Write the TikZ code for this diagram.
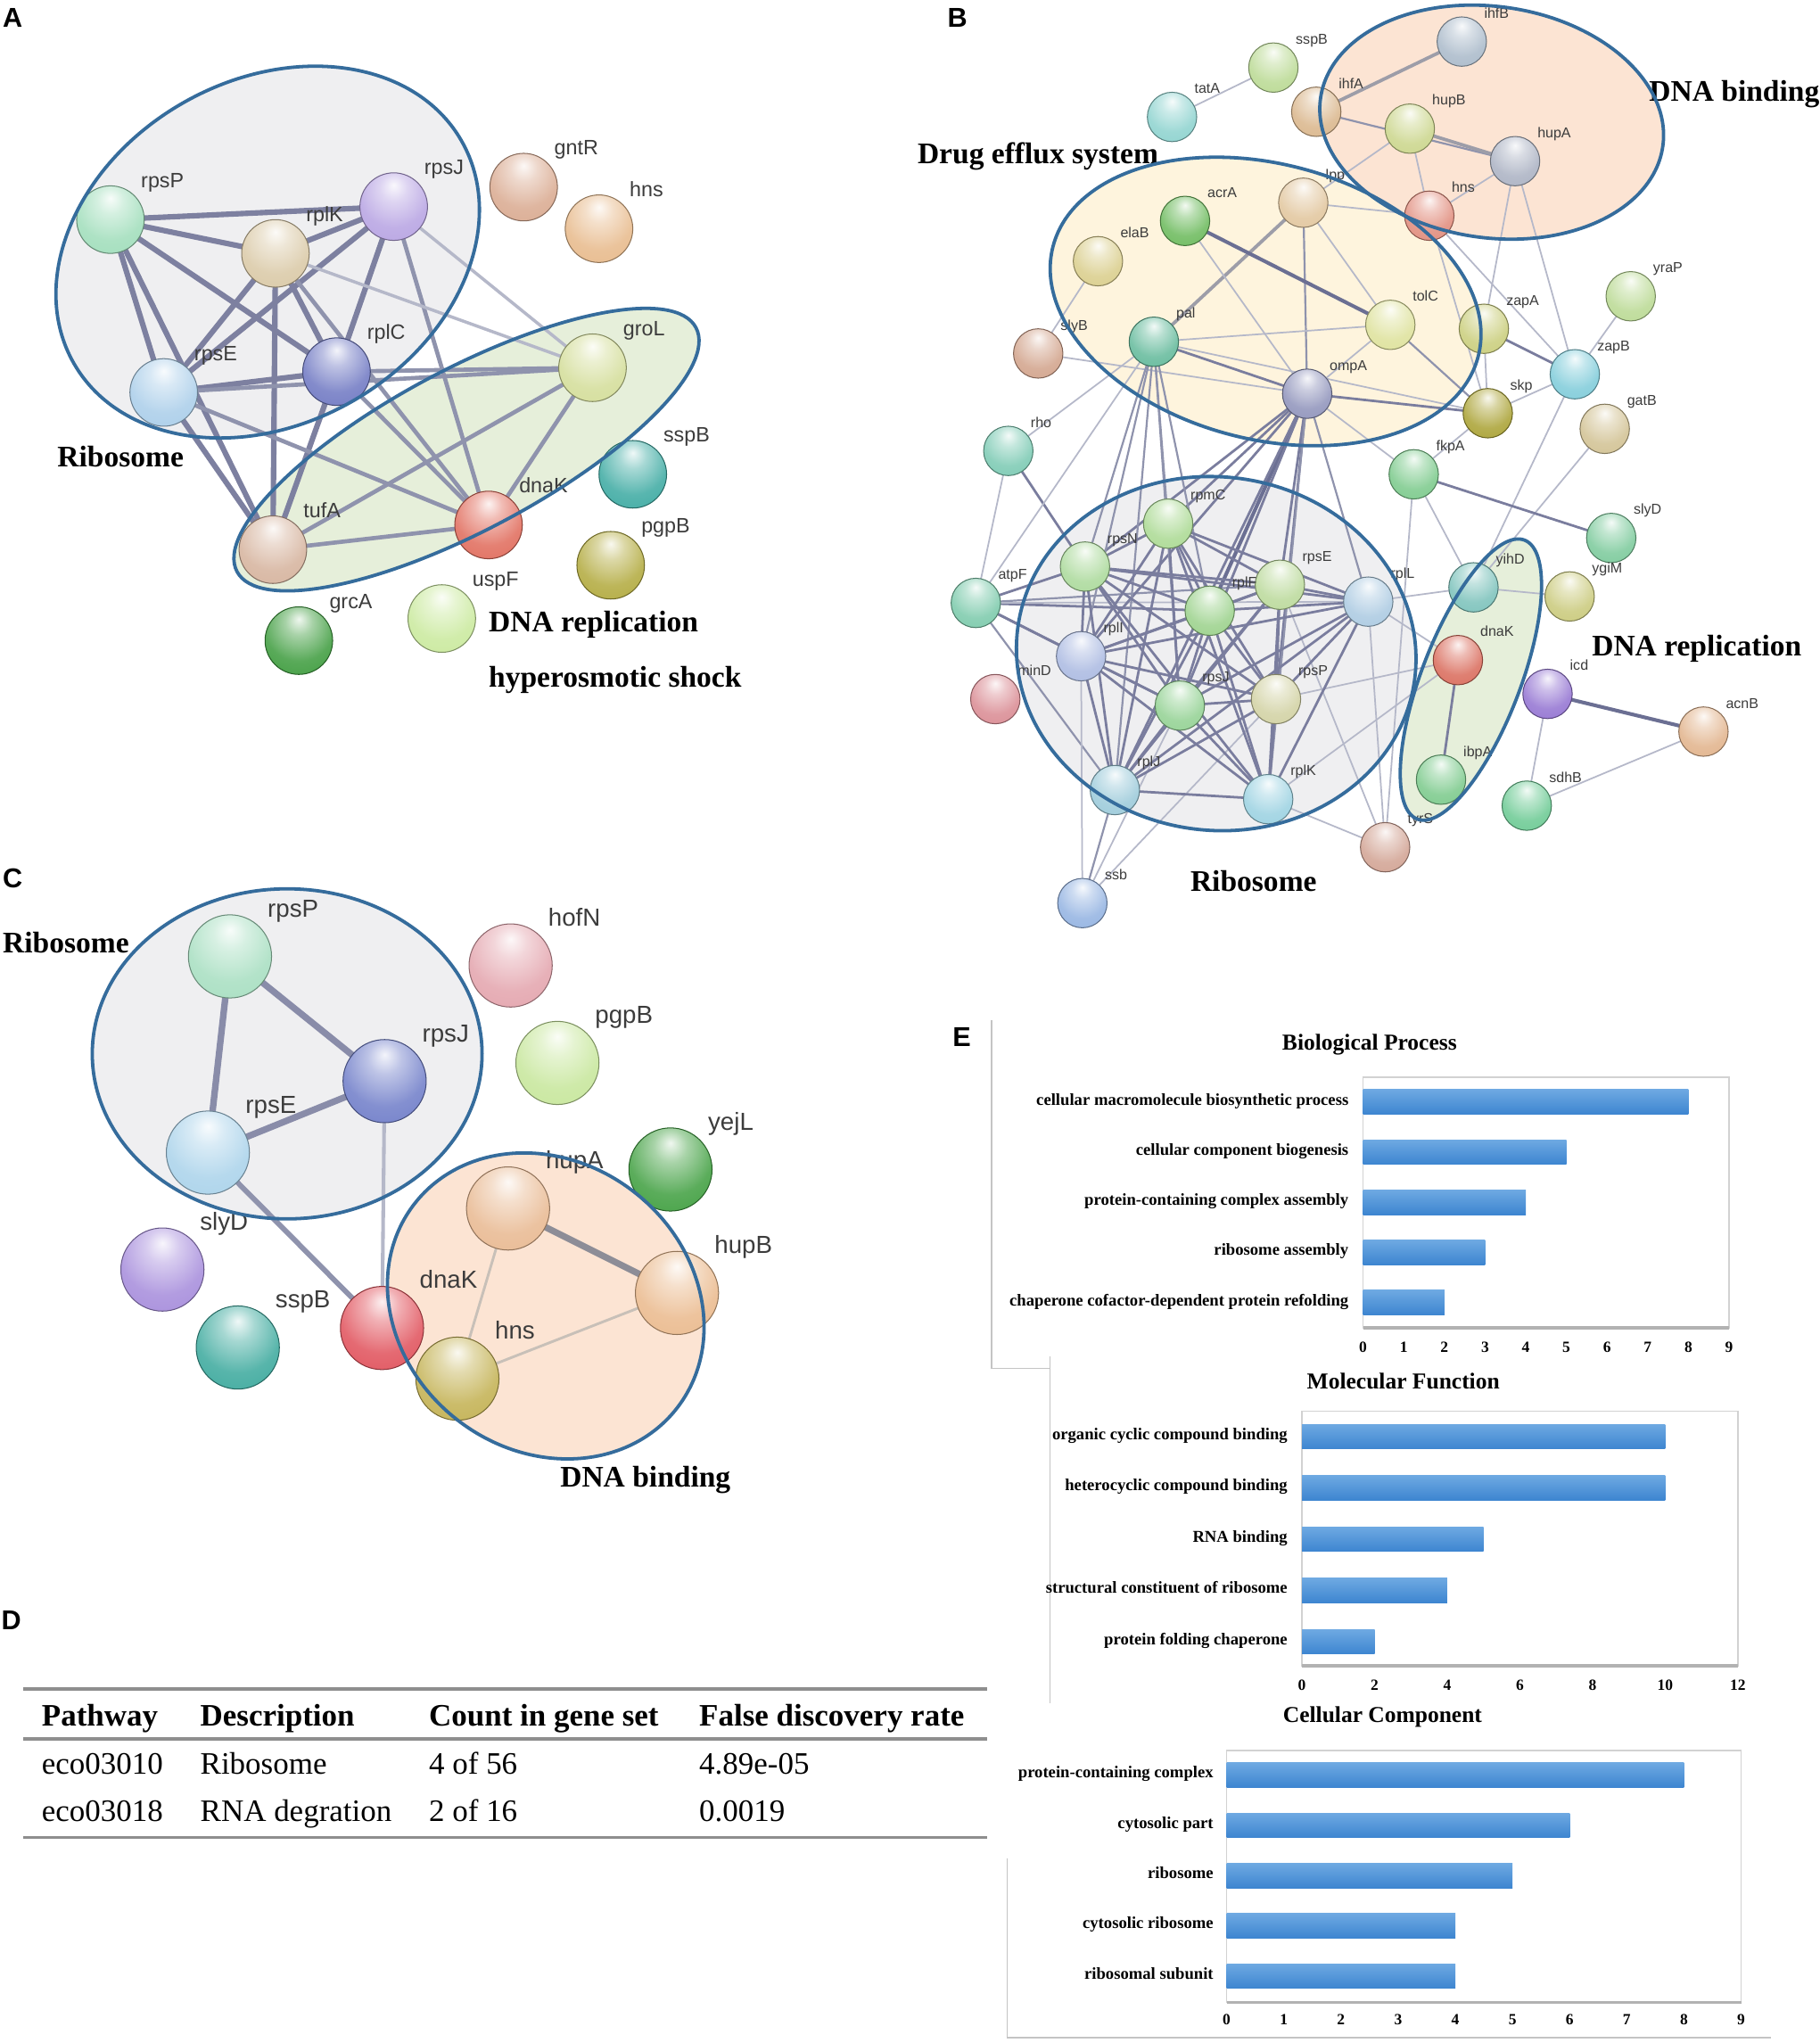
\documentclass[tikz,border=0pt]{standalone}
\usepackage{fontspec}
\setmainfont{Liberation Serif}
\newfontfamily\lsans{Liberation Sans}
\usetikzlibrary{calc}
\pgfdeclarelayer{paper}
\pgfdeclarelayer{bg}
\pgfdeclarelayer{edges}
\pgfdeclarelayer{fg}
\pgfsetlayers{paper,bg,edges,main,fg}
\makeatletter
\pgfdeclareradialshading[tikz@ball]{strball}{\pgfqpoint{0bp}{16bp}}{%
 color(0bp)=(tikz@ball!8!white);
 color(10bp)=(tikz@ball!45!white);
 color(26bp)=(tikz@ball!85!white);
 color(46bp)=(tikz@ball);
 color(62bp)=(tikz@ball!78!black);
 color(80bp)=(tikz@ball!65!black)}
\makeatother
\definecolor{labc}{HTML}{3C3C3C}
\definecolor{gline}{HTML}{356C9C}
\definecolor{gfill}{HTML}{EFEFF1}
\definecolor{grfill}{HTML}{E6EFDA}
\definecolor{ofill}{HTML}{FCE4D3}
\definecolor{yfill}{HTML}{FEF4DD}
\definecolor{edk}{HTML}{6B6F93}
\definecolor{emd}{HTML}{8F93AD}
\definecolor{elt}{HTML}{B5B8C9}
\definecolor{egr}{HTML}{9D9DA8}
\definecolor{ebeige}{HTML}{C8C0B8}
\definecolor{barT}{HTML}{6EA9E2}
\definecolor{barB}{HTML}{3D85D0}
\definecolor{framec}{HTML}{C4C4C4}
\definecolor{boxc}{HTML}{D2D2D2}
\definecolor{rulec}{HTML}{8E8E8E}
\newcommand\fntA{\lsans\fontsize{16}{16}\selectfont}
\newcommand\fntB{\lsans\fontsize{11}{11}\selectfont}
\newcommand\fntC{\lsans\fontsize{19}{19}\selectfont}
\newcommand\fntT{\bfseries\fontsize{23}{23}\selectfont}
\newcommand\fntP{\lsans\bfseries\fontsize{21}{21}\selectfont}
\newcommand\fntD{\fontsize{24}{24}\selectfont}
\newcommand\fntE{\bfseries\fontsize{12.8}{12.8}\selectfont}
\newcommand\fntEt{\bfseries\fontsize{12}{12}\selectfont}
\newcommand\fntEh{\bfseries\fontsize{17.5}{17.5}\selectfont}
\newcommand\gnode[7]{%
 \definecolor{c#1}{HTML}{#4}%
 \node[sph, minimum size=2*#6pt, ball color=c#1, shading=strball, draw=c#1!62!black] (#1) at (#2,#3) {};
 \node[lab, font=#7] (#1l) at (#2+0.9*#6, #3-0.95*#6) {#5};}
\newcommand\gedge[3]{\draw[#1] (#2.center) -- (#3.center);}
\newcommand\ggroup[6]{%
 \begin{pgfonlayer}{bg}\fill[#6, rotate around={#5:(#1,#2)}] (#1,#2) ellipse [x radius=#3, y radius=#4];\end{pgfonlayer}%
 \begin{pgfonlayer}{fg}\draw[grpline, rotate around={#5:(#1,#2)}] (#1,#2) ellipse [x radius=#3, y radius=#4];\end{pgfonlayer}}
\tikzset{
 sph/.style={circle, inner sep=0pt, line width=0.7pt},
 lab/.style={anchor=base west, inner sep=0pt, text=labc},
 grpline/.style={draw=gline, line width=2.6pt},
 pl/.style={anchor=base west, inner sep=0pt, font=\fntP},
 tl/.style={anchor=base west, inner sep=0pt, font=\fntT},
 ae1/.style={line width=4.2pt, draw=edk!88!white},
 ae2/.style={line width=3.2pt, draw=emd},
 ae3/.style={line width=2.4pt, draw=elt},
 be1/.style={line width=2.8pt, draw=edk},
 be2/.style={line width=1.9pt, draw=edk!90!white},
 be3/.style={line width=1.5pt, draw=emd},
 be4/.style={line width=1.2pt, draw=elt},
 bg1/.style={line width=2.6pt, draw=egr},
 ce1/.style={line width=5pt, draw=edk!80!white},
 ce2/.style={line width=4pt, draw=emd},
 ce3/.style={line width=2.8pt, draw=elt},
 ce4/.style={line width=2pt, draw=ebeige},
 ce5/.style={line width=5pt, draw=egr!90!black},
 tcell/.style={anchor=base west, inner sep=0pt, font=\fntD},
 thead/.style={anchor=base west, inner sep=0pt, font=\fntD\bfseries},
 trule/.style={draw=rulec, line width=2.5pt},
 elab/.style={anchor=mid east, inner sep=0pt, font=\fntE},
 etick/.style={anchor=center, inner sep=0pt, font=\fntEt},
 etitle/.style={anchor=center, inner sep=0pt, font=\fntEh},
 ebar/.style={top color=barT, bottom color=barB},
 ebox/.style={draw=boxc, line width=1.2pt},
 eboxb/.style={draw=boxc!85!black, line width=2.5pt},
 eframe/.style={draw=framec, line width=1pt}
}
\begin{document}
\begin{tikzpicture}[x=1pt,y=-1pt]
\useasboundingbox (0,0) rectangle (1400,1572.25);
\begin{pgfonlayer}{paper}\fill[white] (0,0) rectangle (1400,1572.25);\end{pgfonlayer}

% ================= Panel A =================
\node[pl] (labA) at (2,21) {A};
\ggroup{206}{194}{172}{132}{30}{gfill}
\ggroup{359}{346}{200}{62}{28}{grfill}
\gnode{ArpsP}{85}{169}{9FDDBA}{rpsP}{26}{\fntA}
\gnode{ArplK}{212}{195}{D9C8A5}{rplK}{26}{\fntA}
\gnode{ArpsJ}{303}{159}{B6A2E2}{rpsJ}{26}{\fntA}
\gnode{ArpsE}{126}{302}{A9CDE9}{rpsE}{26}{\fntA}
\gnode{ArplC}{259}{286}{6E77C2}{rplC}{26}{\fntA}
\gnode{AgroL}{456}{283}{D3DD98}{groL}{26}{\fntA}
\gnode{AtufA}{210}{423}{D5B29C}{tufA}{26}{\fntA}
\gnode{AdnaK}{376}{404}{E06A5A}{dnaK}{26}{\fntA}
\gnode{AgntR}{403}{144}{D9A98F}{gntR}{26}{\fntA}
\gnode{Ahns}{461}{176}{E7B98A}{hns}{26}{\fntA}
\gnode{AsspB}{487}{365}{3BA9A1}{sspB}{26}{\fntA}
\gnode{ApgpB}{470}{435}{B1A93C}{pgpB}{26}{\fntA}
\gnode{AuspF}{340}{476}{C9E99C}{uspF}{26}{\fntA}
\gnode{AgrcA}{230}{493}{3C9B3C}{grcA}{26}{\fntA}
\begin{pgfonlayer}{edges}
\gedge{ae1}{ArpsP}{ArpsJ}\gedge{ae1}{ArpsP}{ArplK}\gedge{ae1}{ArpsP}{ArplC}
\gedge{ae1}{ArpsP}{ArpsE}\gedge{ae1}{ArpsP}{AtufA}\gedge{ae1}{ArplK}{ArpsJ}
\gedge{ae1}{ArplK}{ArpsE}\gedge{ae1}{ArplK}{ArplC}\gedge{ae1}{ArplK}{AtufA}
\gedge{ae1}{ArpsJ}{ArplC}\gedge{ae1}{ArpsJ}{ArpsE}\gedge{ae1}{ArpsE}{ArplC}
\gedge{ae1}{ArpsE}{AtufA}\gedge{ae1}{ArplC}{AtufA}
\gedge{ae2}{AgroL}{AdnaK}\gedge{ae2}{ArplC}{AgroL}\gedge{ae2}{ArpsE}{AgroL}
\gedge{ae2}{AtufA}{AgroL}\gedge{ae2}{AtufA}{AdnaK}\gedge{ae2}{ArplC}{AdnaK}
\gedge{ae2}{ArpsE}{AdnaK}\gedge{ae2}{ArplK}{AdnaK}\gedge{ae2}{ArpsJ}{AdnaK}
\gedge{ae3}{ArpsJ}{AgroL}\gedge{ae3}{ArplK}{AgroL}
\end{pgfonlayer}
\node[tl] (AtRib) at (44,359) {Ribosome};
\node[tl] (AtDNA) at (376,486) {DNA replication};
\node[tl] (AtHyp) at (376,529) {hyperosmotic shock};

% ================= Panel B =================
\node[pl] (labB) at (729,21) {B};
\begin{scope}[xshift=4pt]
\ggroup{970}{232}{169}{106}{-14.5}{yfill}
\ggroup{1144}{94}{133}{89}{-8}{ofill}
\ggroup{932}{503}{154}{136}{-7}{gfill}
\ggroup{1128}{523}{115}{38}{69}{grfill}
\gnode{BihfB}{1121}{32}{A9B9C9}{ihfB}{19}{\fntB}
\gnode{BsspB}{976}{52}{B9D992}{sspB}{19}{\fntB}
\gnode{BtatA}{898}{90}{8CD2CE}{tatA}{19}{\fntB}
\gnode{BihfA}{1009}{86}{D9B58A}{ihfA}{19}{\fntB}
\gnode{BhupB}{1081}{99}{CAD58A}{hupB}{19}{\fntB}
\gnode{BhupA}{1162}{124}{AAB1C2}{hupA}{19}{\fntB}
\gnode{Blpp}{999}{156}{E1C59C}{lpp}{19}{\fntB}
\gnode{Bhns}{1096}{166}{E08A7A}{hns}{19}{\fntB}
\gnode{BacrA}{908}{170}{6AB95A}{acrA}{19}{\fntB}
\gnode{BelaB}{841}{201}{D9CD8A}{elaB}{19}{\fntB}
\gnode{BtolC}{1066}{250}{DDE19A}{tolC}{19}{\fntB}
\gnode{BzapA}{1138}{253}{C9CD7A}{zapA}{19}{\fntB}
\gnode{ByraP}{1251}{228}{B9D992}{yraP}{19}{\fntB}
\gnode{Bpal}{884}{263}{62B99A}{pal}{19}{\fntB}
\gnode{BslyB}{795}{272}{D1A28A}{slyB}{19}{\fntB}
\gnode{BzapB}{1208}{288}{7ECBD9}{zapB}{19}{\fntB}
\gnode{BompA}{1002}{303}{8E92BA}{ompA}{19}{\fntB}
\gnode{Bskp}{1141}{318}{A9A132}{skp}{19}{\fntB}
\gnode{BgatB}{1231}{330}{D1C192}{gatB}{19}{\fntB}
\gnode{Brho}{772}{347}{7AC9B2}{rho}{19}{\fntB}
\gnode{BfkpA}{1084}{365}{7AC98A}{fkpA}{19}{\fntB}
\gnode{BslyD}{1236}{414}{7AC99A}{slyD}{19}{\fntB}
\gnode{BrpmC}{895}{403}{AAD992}{rpmC}{19}{\fntB}
\gnode{BrpsN}{831}{436}{AAD99A}{rpsN}{19}{\fntB}
\gnode{BrpsE}{981}{450}{BAD99A}{rpsE}{19}{\fntB}
\gnode{BrplF}{927}{470}{9AD18A}{rplF}{19}{\fntB}
\gnode{BrplL}{1049}{463}{AAC9E1}{rplL}{19}{\fntB}
\gnode{ByihD}{1130}{452}{7AC1BA}{yihD}{19}{\fntB}
\gnode{BygiM}{1204}{459}{C9C97A}{ygiM}{19}{\fntB}
\gnode{BatpF}{747}{464}{7AC9AA}{atpF}{19}{\fntB}
\gnode{BrplI}{828}{505}{AAB9E1}{rplI}{19}{\fntB}
\gnode{BdnaK}{1118}{508}{D96A5A}{dnaK}{19}{\fntB}
\gnode{Bicd}{1187}{534}{9272D1}{icd}{19}{\fntB}
\gnode{BminD}{762}{538}{D98A92}{minD}{19}{\fntB}
\gnode{BrpsJ}{904}{543}{92D192}{rpsJ}{19}{\fntB}
\gnode{BrpsP}{978}{538}{D1D1A2}{rpsP}{19}{\fntB}
\gnode{BacnB}{1307}{563}{E1B28A}{acnB}{19}{\fntB}
\gnode{BibpA}{1105}{600}{7AC98A}{ibpA}{19}{\fntB}
\gnode{BrplJ}{854}{608}{9AC9D9}{rplJ}{19}{\fntB}
\gnode{BrplK}{972}{615}{9AD1E1}{rplK}{19}{\fntB}
\gnode{BsdhB}{1171}{620}{6AC992}{sdhB}{19}{\fntB}
\gnode{BtyrS}{1062}{652}{D1A292}{tyrS}{19}{\fntB}
\gnode{Bssb}{829}{695}{92B2E1}{ssb}{19}{\fntB}
\begin{pgfonlayer}{edges}
\gedge{be4}{BtatA}{BsspB}
\gedge{bg1}{BihfA}{BihfB}\gedge{be3}{BihfA}{BhupA}\gedge{bg1}{BhupB}{BhupA}
\gedge{be4}{BhupB}{Bhns}\gedge{be4}{BhupB}{Blpp}\gedge{be4}{BhupA}{Bhns}
\gedge{be4}{BhupA}{BzapA}\gedge{be4}{BhupA}{BzapB}\gedge{be4}{Blpp}{Bhns}
\gedge{be4}{Blpp}{BtolC}\gedge{be4}{Bhns}{BzapB}\gedge{be4}{Bhns}{Bskp}
\gedge{bg1}{Blpp}{Bpal}\gedge{be3}{Blpp}{BompA}
\gedge{be1}{BacrA}{BtolC}\gedge{be4}{BacrA}{BompA}\gedge{be4}{BelaB}{BslyB}
\gedge{be4}{Bpal}{BtolC}\gedge{be4}{Bpal}{Bskp}\gedge{be4}{BtolC}{BompA}
\gedge{be4}{BslyB}{BompA}\gedge{be4}{BompA}{BfkpA}\gedge{be4}{BzapA}{Bskp}
\gedge{be4}{ByraP}{BzapB}\gedge{be4}{BzapB}{Bskp}\gedge{be4}{BzapB}{ByihD}
\gedge{be4}{BgatB}{ByihD}\gedge{be4}{Bskp}{BfkpA}\gedge{be4}{Brho}{Bpal}
\gedge{be3}{BtolC}{Bskp}
\gedge{be2}{Bpal}{BompA}\gedge{be2}{BompA}{Bskp}\gedge{be2}{BzapA}{BzapB}
\gedge{be4}{Brho}{BatpF}\gedge{be2}{Brho}{BrpsN}
\gedge{be2}{BatpF}{BrpsN}\gedge{be2}{BatpF}{BrplF}\gedge{be2}{BatpF}{BrplI}
\gedge{be2}{BatpF}{BrpsJ}\gedge{be3}{BatpF}{BrplJ}\gedge{be3}{BatpF}{BrpsE}
\gedge{be4}{BatpF}{BrplL}
\gedge{be3}{Bssb}{BrplJ}\gedge{be4}{Bssb}{BrplI}\gedge{be4}{Bssb}{BrpsJ}
\gedge{be4}{Bssb}{BrpsP}
\gedge{be4}{BtyrS}{BrplL}\gedge{be4}{BtyrS}{BrplK}\gedge{be4}{BtyrS}{BrpsE}
\gedge{be4}{BfkpA}{BtyrS}\gedge{be2}{BfkpA}{BslyD}\gedge{be4}{BfkpA}{ByihD}
\gedge{be2}{BdnaK}{BibpA}\gedge{be4}{BrplL}{BdnaK}\gedge{be4}{BrpsP}{BdnaK}
\gedge{be4}{BrplL}{ByihD}\gedge{be4}{ByihD}{BygiM}\gedge{be4}{BrplK}{BdnaK}
\gedge{be1}{Bicd}{BacnB}\gedge{be4}{Bicd}{BsdhB}\gedge{be4}{BsdhB}{BacnB}
\gedge{be1}{BompA}{BrplF}
\gedge{be2}{BompA}{BrpmC}\gedge{be2}{BompA}{BrpsN}\gedge{be2}{BompA}{BrpsE}
\gedge{be2}{BompA}{BrplI}\gedge{be2}{BompA}{BrpsJ}\gedge{be2}{BompA}{BrpsP}
\gedge{be2}{BompA}{BrplJ}\gedge{be3}{BompA}{BrplL}\gedge{be3}{BompA}{BrplK}
\gedge{be3}{Bpal}{BrpsN}\gedge{be3}{Bpal}{BrplI}\gedge{be3}{Bpal}{BrpmC}
\gedge{be3}{Bpal}{BrplF}\gedge{be3}{Bpal}{BrpsJ}\gedge{be3}{Bpal}{BrplJ}
\gedge{be4}{Bpal}{BatpF}
\foreach \a [count=\i] in {BrpmC,BrpsN,BrpsE,BrplF,BrplL,BrplI,BrpsJ,BrpsP,BrplJ,BrplK}{
 \foreach \b [count=\j] in {BrpmC,BrpsN,BrpsE,BrplF,BrplL,BrplI,BrpsJ,BrpsP,BrplJ,BrplK}{
  \ifnum\i<\j \draw[be2] (\a.center) -- (\b.center);\fi}}
\end{pgfonlayer}
\node[tl] (BtDrug) at (702,126) {Drug efflux system};
\node[tl] (BtDNAb) at (1265,78) {DNA binding};
\node[tl] (BtRib) at (912,686) {Ribosome};
\node[tl] (BtDNAr) at (1221,505) {DNA replication};
\end{scope}

% ================= Panel C =================
\node[pl] (labC) at (2,683) {C};
\ggroup{221}{811}{150}{127}{0}{gfill}
\ggroup{420}{1005}{128}{111}{-38}{ofill}
\gnode{CrpsP}{177}{736}{A6DEC0}{rpsP}{32}{\fntC}
\gnode{CrpsJ}{296}{832}{6E7CC8}{rpsJ}{32}{\fntC}
\gnode{CrpsE}{160}{887}{A9D2EA}{rpsE}{32}{\fntC}
\gnode{ChofN}{393}{743}{E3A3AC}{hofN}{32}{\fntC}
\gnode{CpgpB}{429}{818}{C6E69A}{pgpB}{32}{\fntC}
\gnode{CyejL}{516}{900}{3E9E3E}{yejL}{32}{\fntC}
\gnode{ChupA}{391}{930}{E8B890}{hupA}{32}{\fntC}
\gnode{ChupB}{521}{995}{EAB98C}{hupB}{32}{\fntC}
\gnode{CslyD}{125}{977}{A58BDB}{slyD}{32}{\fntC}
\gnode{CsspB}{183}{1037}{3AA89C}{sspB}{32}{\fntC}
\gnode{CdnaK}{294}{1022}{E0505A}{dnaK}{32}{\fntC}
\gnode{Chns}{352}{1061}{C2B050}{hns}{32}{\fntC}
\begin{pgfonlayer}{edges}
\gedge{ce1}{CrpsP}{CrpsE}\gedge{ce1}{CrpsP}{CrpsJ}\gedge{ce1}{CrpsE}{CrpsJ}
\gedge{ce2}{CrpsE}{CdnaK}\gedge{ce3}{CrpsJ}{CdnaK}
\gedge{ce5}{ChupA}{ChupB}\gedge{ce4}{ChupA}{Chns}\gedge{ce4}{Chns}{ChupB}
\end{pgfonlayer}
\node[tl] (CtRib) at (2,733) {Ribosome};
\node[tl] (CtDNA) at (431,1144) {DNA binding};

% ================= Panel D =================
\node[pl] (labD) at (1,1254) {D};
\draw[trule] (18,1300) -- (760,1300);
\draw[trule] (18,1338) -- (760,1338);
\draw[trule] (18,1414) -- (760,1414);
\node[thead] (dh1) at (32,1328) {Pathway};
\node[thead] (dh2) at (154,1328) {Description};
\node[thead] (dh3) at (330,1328) {Count in gene set};
\node[thead] (dh4) at (538,1328) {False discovery rate};
\node[tcell] (d11) at (32,1365) {eco03010};
\node[tcell] (d12) at (154,1365) {Ribosome};
\node[tcell] (d13) at (330,1365) {4 of 56};
\node[tcell] (d14) at (538,1365) {4.89e-05};
\node[tcell] (d21) at (32,1402) {eco03018};
\node[tcell] (d22) at (154,1402) {RNA degration};
\node[tcell] (d23) at (330,1402) {2 of 16};
\node[tcell] (d24) at (538,1402) {0.0019};

% ================= Panel E =================
\node[pl] (labE) at (733,805) {E};
\draw[eframe] (763,785) -- (763,1053) -- (808,1053);
\draw[eframe] (808,1044) -- (808,1311);
\draw[eframe] (775,1430) -- (775,1568) -- (1363,1568);
% Biological Process
\node[etitle] (bpT) at (1054,804) {Biological Process};
\draw[ebox] (1049,829) rectangle (1330.7,1022);
\draw[eboxb] (1049,1022) -- (1330.7,1022);
\foreach \v/\yy/\txt [count=\k] in {8/848/cellular macromolecule biosynthetic process,5/886.6/cellular component biogenesis,4/925.2/protein-containing complex assembly,3/963.8/ribosome assembly,2/1002.4/chaperone cofactor-dependent protein refolding}{
 \shade[ebar] (1049,\yy-9.5) rectangle ({1049+\v*31.3},\yy+9.5);
 \node[elab] (bpL\k) at (1038,\yy) {\txt};}
\foreach \t in {0,...,9}{\node[etick] (bpX\t) at ({1049+\t*31.3},1037) {\t};}
% Molecular Function
\node[etitle] (mfT) at (1080,1063) {Molecular Function};
\draw[ebox] (1002,1086) rectangle (1337.4,1282);
\draw[eboxb] (1002,1282) -- (1337.4,1282);
\foreach \v/\yy/\txt [count=\k] in {10/1105.5/organic cyclic compound binding,10/1145/heterocyclic compound binding,5/1184.5/RNA binding,4/1224/structural constituent of ribosome,2/1263.5/protein folding chaperone}{
 \shade[ebar] (1002,\yy-9.5) rectangle ({1002+\v*27.95},\yy+9.5);
 \node[elab] (mfL\k) at (991,\yy) {\txt};}
\foreach \t [count=\k] in {0,2,...,12}{\node[etick] (mfX\k) at ({1002+\t*27.95},1297) {\t};}
% Cellular Component
\node[etitle] (ccT) at (1064,1321.5) {Cellular Component};
\draw[ebox] (944,1347) rectangle (1340,1541);
\draw[eboxb] (944,1541) -- (1340,1541);
\foreach \v/\yy/\txt [count=\k] in {8/1366/protein-containing complex,6/1404.7/cytosolic part,5/1443.4/ribosome,4/1482/cytosolic ribosome,4/1520.7/ribosomal subunit}{
 \shade[ebar] (944,\yy-9.5) rectangle ({944+\v*44},\yy+9.5);
 \node[elab] (ccL\k) at (934,\yy) {\txt};}
\foreach \t in {0,...,9}{\node[etick] (ccX\t) at ({944+\t*44},1554) {\t};}
\end{tikzpicture}
\end{document}
